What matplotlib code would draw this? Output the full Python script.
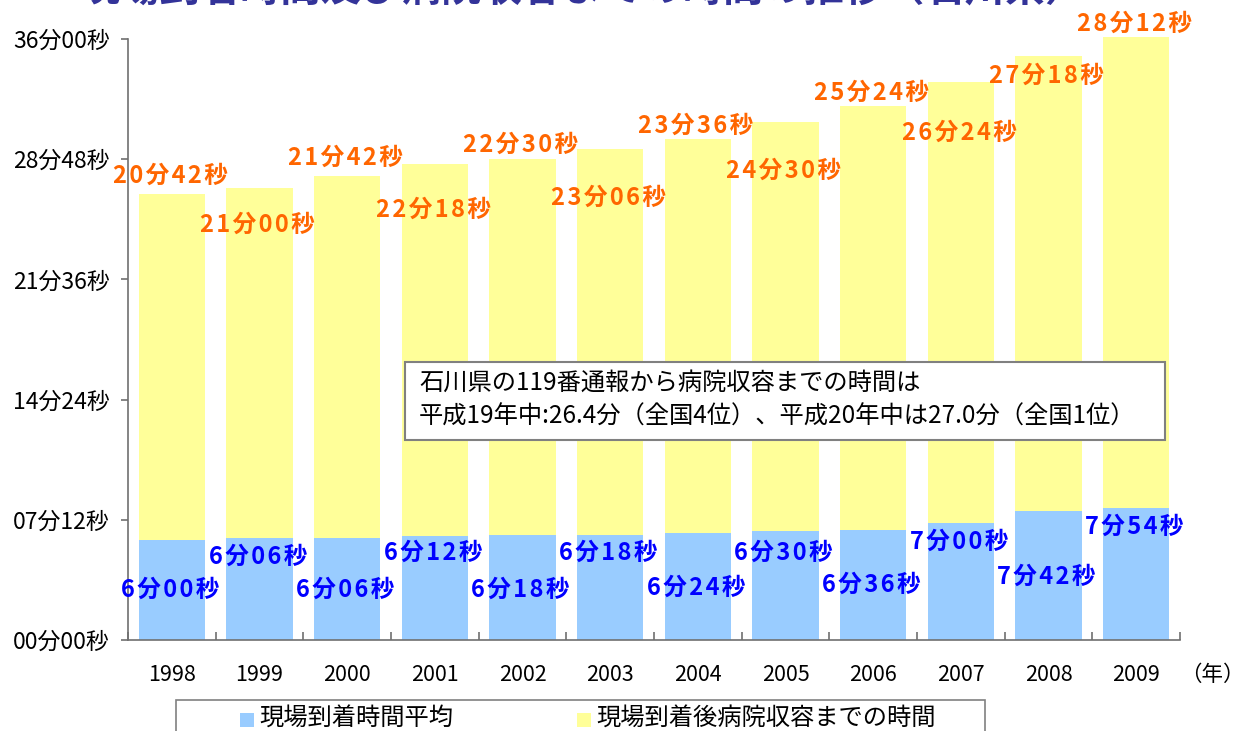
import matplotlib
matplotlib.use('Agg')
import matplotlib.pyplot as plt
from matplotlib.patches import Rectangle
from matplotlib.ticker import FixedLocator, FuncFormatter

plt.rcParams['font.family'] = ['Noto Sans CJK JP', 'DejaVu Sans']

years = ['1998', '1999', '2000', '2001', '2002', '2003',
         '2004', '2005', '2006', '2007', '2008', '2009']
# seconds
arrival_sec = [360, 366, 366, 372, 378, 378, 384, 390, 396, 420, 462, 474]
hospital_sec = [1242, 1260, 1302, 1338, 1350, 1386, 1416, 1470, 1524, 1584, 1638, 1692]

series_names = ['現場到着時間平均', '現場到着後病院収容までの時間']
note_lines = ['石川県の119番通報から病院収容までの時間は',
              '平成19年中:26.4分（全国4位）、平成20年中は27.0分（全国1位）']
title = '現場到着時間及び病院収容までの時間の推移（石川県）'

# label offsets (minutes, relative to segment top)
blue_dy = [-3.0, -1.1, -3.1, -1.0, -3.3, -1.1, -3.3, -1.3, -3.3, -1.1, -3.9, -1.1]
orange_dy = [1.1, -2.2, 1.1, -2.75, 0.85, -2.9, 0.8, -2.9, 0.8, -3.0, -1.2, 0.8]

BLUE = '#99CCFF'
YELLOW = '#FFFF99'
W, H = 1247, 731


def fmt_time(sec):
    s = f'{sec // 60}分{sec % 60:02d}秒'
    return '\u200a'.join(s)  # slight letter spacing


fig = plt.figure(figsize=(W / 100, H / 100), dpi=100)
ax = fig.add_axes([128 / W, 1 - 640 / H, (1180 - 128) / W, (640 - 39) / H])

x = list(range(len(years)))
arr_min = [s / 60 for s in arrival_sec]
hos_min = [s / 60 for s in hospital_sec]

ax.bar(x, arr_min, width=0.76, color=BLUE, clip_on=False, zorder=2)
ax.bar(x, hos_min, width=0.76, bottom=arr_min, color=YELLOW, clip_on=False, zorder=2)

for i in x:
    ax.text(i - 0.02, arr_min[i] + blue_dy[i], fmt_time(arrival_sec[i]),
            ha='center', va='center', color='#0000FF', fontsize=17,
            fontweight='bold', zorder=4, clip_on=False)
    top = arr_min[i] + hos_min[i]
    ax.text(i - 0.02, top + orange_dy[i], fmt_time(hospital_sec[i]),
            ha='center', va='center', color='#FF6600', fontsize=17,
            fontweight='bold', zorder=4, clip_on=False)

ax.set_xlim(-0.5, len(years) - 0.5)
ax.set_ylim(0, 36)

yt = [0, 7.2, 14.4, 21.6, 28.8, 36]
ax.yaxis.set_major_locator(FixedLocator(yt))
ax.yaxis.set_major_formatter(FuncFormatter(
    lambda v, p: f'{int(round(v * 60)) // 60:02d}分{int(round(v * 60)) % 60:02d}秒'))
ax.tick_params(axis='y', direction='out', length=5, width=1.2, color='#707070',
               labelsize=16.5, pad=8)

ax.set_xticks(x)
ax.set_xticklabels(years)
ax.set_xticks([i - 0.5 for i in range(len(years) + 1)], minor=True)
ax.tick_params(axis='x', which='major', length=0, labelsize=15.5, pad=17)
ax.tick_params(axis='x', which='minor', direction='in', length=6, width=1.2,
               color='#707070')

for side in ['top', 'right']:
    ax.spines[side].set_visible(False)
for side in ['left', 'bottom']:
    ax.spines[side].set_color('#707070')
    ax.spines[side].set_linewidth(1.2)

fig.text(1212 / W, 1 - 675 / H, '（年）', ha='center', va='center', fontsize=15.5)

# title (cropped at top of image, as in the source)
fig.text(582 / W, 1 - 11 / H, title, ha='center', va='bottom', fontsize=29,
         fontweight='bold', color='#333399')

# note box
fig.add_artist(Rectangle((405 / W, 1 - 440 / H), 760 / W, 78 / H,
                         transform=fig.transFigure, facecolor='white',
                         edgecolor='#808080', linewidth=1.5, zorder=5))
fig.text(419 / W, 1 - 383 / H, note_lines[0], ha='left', va='center',
         fontsize=17.5, zorder=6)
fig.text(419 / W, 1 - 417 / H, note_lines[1], ha='left', va='center',
         fontsize=17.5, zorder=6)

# legend box (cut off at bottom)
fig.add_artist(Rectangle((176 / W, 1 - 760 / H), 809 / W, 60 / H,
                         transform=fig.transFigure, facecolor='white',
                         edgecolor='#808080', linewidth=1.2, zorder=5))
for sx, col, name in [(240, BLUE, series_names[0]), (577, YELLOW, series_names[1])]:
    fig.add_artist(Rectangle((sx / W, 1 - 727 / H), 14 / W, 14 / H,
                             transform=fig.transFigure, facecolor=col,
                             edgecolor='none', zorder=6))
    fig.text((sx + 19) / W, 1 - 719 / H, name, ha='left', va='center',
             fontsize=17.5, zorder=6)

fig.savefig('out.png', dpi=100)
